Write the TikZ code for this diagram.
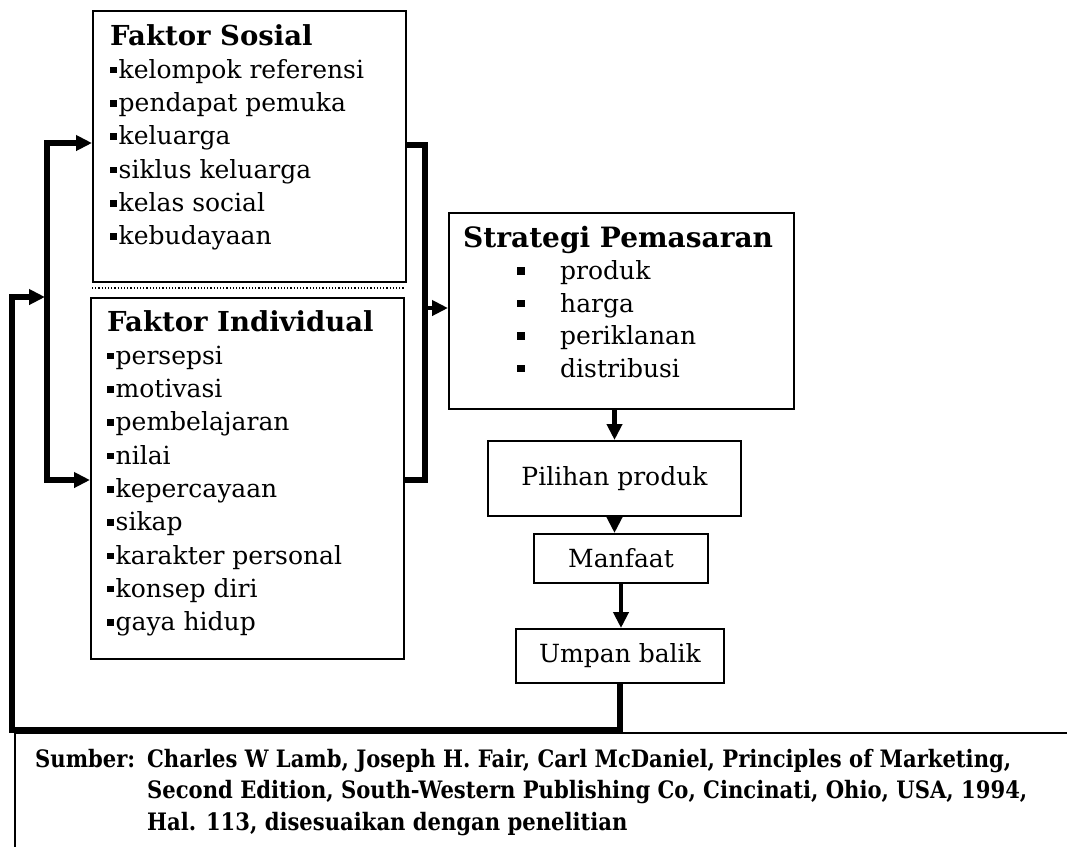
\documentclass[tikz,border=0pt]{standalone}
\usepackage{fontspec}
\setmainfont{DejaVu Serif}
\newfontfamily\srcfont[FakeStretch=0.88]{DejaVu Serif}
\usetikzlibrary{arrows.meta}
\newcommand\bsq{\rule[5pt]{6.5pt}{6.5pt}\hspace{2pt}}
\newcommand\bsqs{\hspace*{54pt}\makebox[43pt][l]{\rule[5pt]{7.5pt}{7.5pt}}}
\begin{document}
\begin{tikzpicture}[x=1pt,y=-1pt,
  >={Triangle[length=16pt,width=15pt]},
  box/.style={draw,line width=2pt,inner sep=0pt,anchor=north west,font=\fontsize{25}{30}\selectfont},
  lbl/.style={anchor=base west,inner sep=0pt,font=\fontsize{25}{33.3}\selectfont},
  ttlfont/.style={},
  conn/.style={line width=5.5pt},
  arr/.style={line width=4.5pt,->}
]
\useasboundingbox (0,0) rectangle (1067,847);
% boxes
\node[box,minimum width=313pt,minimum height=271pt] (sosial) at (92,10) {};
\node[box,minimum width=313pt,minimum height=361pt] (indiv) at (90,297) {};
\node[box,minimum width=345pt,minimum height=196pt] (strat) at (448,212) {};
\node[box,minimum width=253pt,minimum height=75pt] (pilihan) at (487,440) {Pilihan produk};
\node[box,minimum width=174pt,minimum height=49pt] (manfaat) at (533,533) {Manfaat};
\node[box,minimum width=208pt,minimum height=54pt] (umpan) at (515,628) {Umpan balik};
% texts
\node[lbl] (sosialtxt) at (110,45) {\begin{tabular}[t]{@{}l@{}}
{\fontsize{27.5}{33.3}\selectfont\bfseries Faktor Sosial}\\
\bsq kelompok referensi\\
\bsq pendapat pemuka\\
\bsq keluarga\\
\bsq siklus keluarga\\
\bsq kelas social\\
\bsq kebudayaan
\end{tabular}};
\node[lbl] (indivtxt) at (107,331) {\begin{tabular}[t]{@{}l@{}}
{\fontsize{27.5}{33.3}\selectfont\bfseries Faktor Individual}\\
\bsq persepsi\\
\bsq motivasi\\
\bsq pembelajaran\\
\bsq nilai\\
\bsq kepercayaan\\
\bsq sikap\\
\bsq karakter personal\\
\bsq konsep diri\\
\bsq gaya hidup
\end{tabular}};
\node[lbl,font=\fontsize{25}{32.5}\selectfont] (strattxt) at (463,247) {\begin{tabular}[t]{@{}l@{}}
{\fontsize{28}{32.5}\selectfont\bfseries Strategi Pemasaran}\\
\bsqs produk\\
\bsqs harga\\
\bsqs periklanan\\
\bsqs distribusi
\end{tabular}};
\node[anchor=base west,inner sep=0pt,font=\srcfont\bfseries\fontsize{24}{31.5}\selectfont] (src) at (35,767) {\begin{tabular}[t]{@{}l@{}l@{}}
\makebox[112pt][l]{Sumber:} & Charles W Lamb, Joseph H. Fair, Carl McDaniel, Principles of Marketing,\\
 & Second Edition, South-Western Publishing Co, Cincinati, Ohio, USA, 1994,\\
 & Hal. 113, disesuaikan dengan penelitian
\end{tabular}};
% coordinates
\coordinate (lt) at (47,143);
\coordinate (lb) at (47,480);
\coordinate (rt) at (425,145);
\coordinate (rb) at (425,480);
\coordinate (rm) at (425,308);
\coordinate (fbL) at (12,730);
\coordinate (fbT) at (12,297);
\coordinate (fbTip) at (45,297);
\coordinate (frL) at (15,733);
\coordinate (frR) at (1067,733);
\coordinate (frB) at (15,847);
\coordinate (dl) at (92,288);
\coordinate (dr) at (405,288);
% frame lines
\draw[line width=2pt] (frL) -- (frR);
\draw[line width=1.5pt] (frL) -- (frB);
\draw[dotted,line width=1.2pt] (dl) -- (dr);
% connectors
\draw[conn,<->] (lt -| sosial.west) -- (lt) -- (lb) -- (lb -| indiv.west);
\draw[conn] (rt -| sosial.east) -- (rt) -- (rb) -- (rb -| indiv.east);
\draw[arr] (rm) -- (rm -| strat.west);
\draw[arr] (strat.south -| pilihan.north) -- (pilihan.north);
\draw[arr] (pilihan.south) -- (pilihan.south |- manfaat.north);
\draw[arr] (manfaat.south) -- (manfaat.south |- umpan.north);
\draw[conn,->] (umpan.south) -- (umpan.south |- fbL) -- (fbL) -- (fbT) -- (fbTip);
\end{tikzpicture}
\end{document}
